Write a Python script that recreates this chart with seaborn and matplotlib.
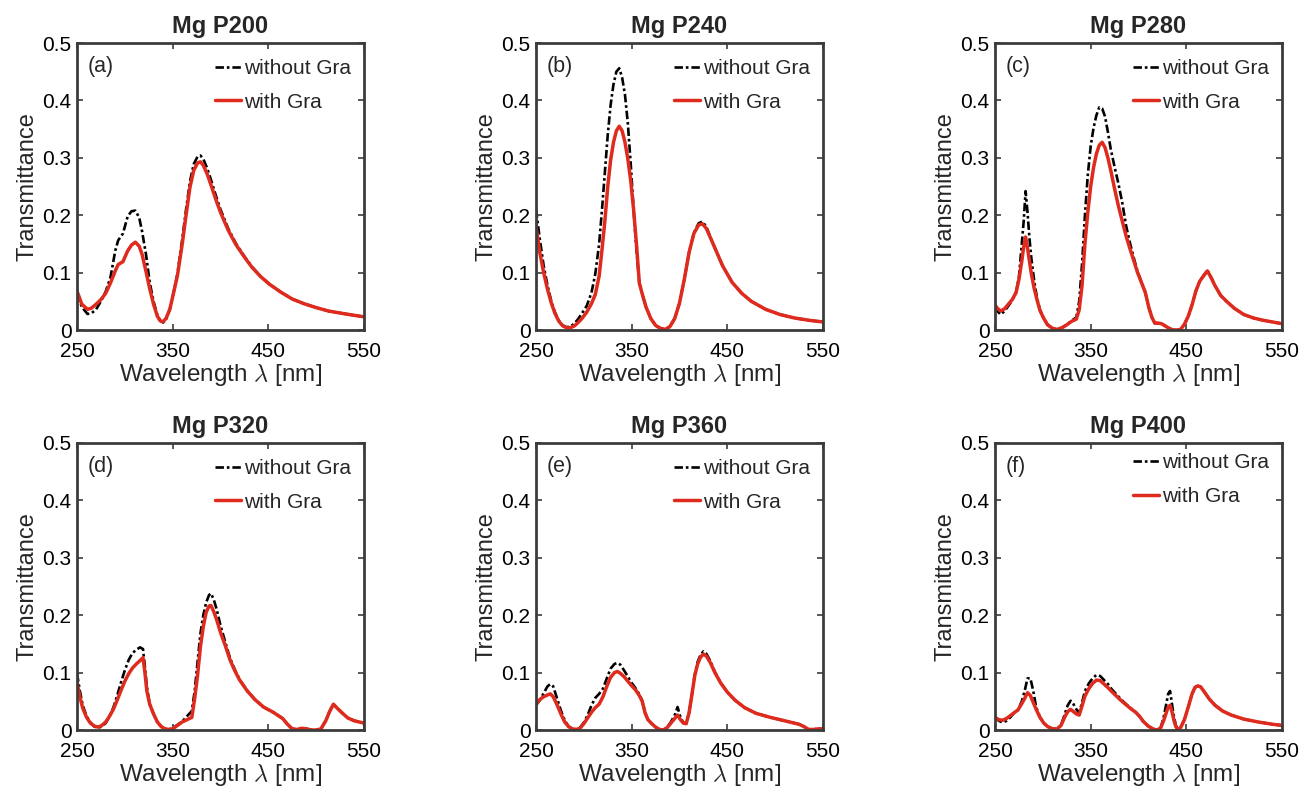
import numpy as np
import pandas as pd
import matplotlib
matplotlib.use("Agg")
import matplotlib.pyplot as plt
import seaborn as sns

sns.set_style("white")
plt.rcParams["font.family"] = ["Liberation Sans", "DejaVu Sans"]
plt.rcParams["mathtext.fontset"] = "cm"

# ---------------- spectra (wavelength in nm, transmittance) ----------------
# (a) Mg P200
wl_a = [250, 255, 261, 265, 270, 275, 280, 285, 290, 293, 298, 303, 307, 311, 315, 318,
        322, 326, 330, 334, 337, 340, 343, 347, 351, 355, 360, 364, 368, 372, 376, 379,
        382, 386, 390, 395, 400, 408, 416, 425, 433, 442, 451, 463, 475, 487, 500, 513,
        527, 538, 550]
with_a = [0.068, 0.045, 0.036, 0.038, 0.045, 0.053, 0.064, 0.082, 0.103, 0.114, 0.119,
          0.138, 0.148, 0.153, 0.146, 0.132, 0.103, 0.072, 0.045, 0.024, 0.016, 0.0145,
          0.020, 0.036, 0.065, 0.095, 0.150, 0.200, 0.248, 0.278, 0.291, 0.293, 0.287,
          0.272, 0.253, 0.228, 0.205, 0.174, 0.149, 0.127, 0.109, 0.093, 0.080, 0.066,
          0.054, 0.046, 0.039, 0.033, 0.029, 0.026, 0.023]
without_a = [0.064, 0.040, 0.028, 0.029, 0.036, 0.050, 0.067, 0.092, 0.138, 0.156, 0.168,
             0.198, 0.207, 0.208, 0.196, 0.172, 0.133, 0.083, 0.050, 0.026, 0.016, 0.013,
             0.018, 0.036, 0.066, 0.098, 0.158, 0.210, 0.258, 0.289, 0.302, 0.304, 0.298,
             0.282, 0.262, 0.235, 0.210, 0.177, 0.151, 0.128, 0.110, 0.093, 0.080, 0.066,
             0.054, 0.046, 0.039, 0.033, 0.029, 0.026, 0.023]

# (b) Mg P240
wl_b = [250, 254, 258, 262, 266, 270, 274, 278, 282, 286, 290, 294, 298, 303, 308, 312,
        316, 319, 322, 325, 328, 331, 334, 337, 340, 343, 346, 349, 352, 355, 358, 361,
        365, 370, 375, 380, 385, 390, 395, 400, 405, 410, 415, 420, 424, 428, 432, 438,
        445, 455, 465, 475, 490, 505, 520, 535, 550]
with_b = [0.181, 0.135, 0.100, 0.071, 0.047, 0.028, 0.015, 0.007, 0.004, 0.004, 0.007,
          0.013, 0.020, 0.031, 0.046, 0.062, 0.094, 0.140, 0.190, 0.250, 0.296, 0.327,
          0.347, 0.355, 0.347, 0.327, 0.298, 0.260, 0.210, 0.150, 0.082, 0.063, 0.040,
          0.020, 0.008, 0.003, 0.001, 0.006, 0.020, 0.047, 0.088, 0.135, 0.168, 0.183,
          0.185, 0.177, 0.162, 0.139, 0.112, 0.083, 0.064, 0.050, 0.036, 0.027, 0.021,
          0.017, 0.014]
without_b = [0.210, 0.158, 0.112, 0.078, 0.050, 0.030, 0.016, 0.008, 0.005, 0.006, 0.011,
             0.019, 0.029, 0.042, 0.065, 0.098, 0.150, 0.210, 0.275, 0.340, 0.392, 0.428,
             0.450, 0.456, 0.440, 0.410, 0.360, 0.290, 0.210, 0.140, 0.082, 0.063, 0.040,
             0.020, 0.008, 0.003, 0.001, 0.006, 0.020, 0.047, 0.088, 0.135, 0.169, 0.186,
             0.189, 0.180, 0.163, 0.139, 0.112, 0.083, 0.064, 0.050, 0.036, 0.027, 0.021,
             0.017, 0.014]

# (c) Mg P280
wl_c = [250, 253, 256, 260, 264, 268, 272, 275, 278, 280, 282, 284, 286, 288, 291, 294,
        297, 301, 305, 310, 315, 320, 325, 330, 335, 338, 341, 344, 347, 350, 353, 356,
        359, 362, 365, 368, 371, 375, 379, 383, 387, 391, 395, 399, 403, 407, 411, 414,
        417, 420, 424, 428, 432, 436, 440, 444, 448, 452, 456, 460, 464, 468, 472, 476,
        480, 486, 492, 500, 510, 520, 530, 540, 550]
with_c = [0.043, 0.037, 0.033, 0.037, 0.045, 0.053, 0.065, 0.088, 0.120, 0.145, 0.162,
          0.143, 0.120, 0.098, 0.072, 0.052, 0.034, 0.020, 0.009, 0.003, 0.001, 0.004,
          0.009, 0.015, 0.019, 0.035, 0.078, 0.150, 0.205, 0.250, 0.283, 0.307, 0.322,
          0.327, 0.318, 0.300, 0.278, 0.246, 0.216, 0.190, 0.164, 0.142, 0.121, 0.100,
          0.083, 0.066, 0.038, 0.022, 0.012, 0.012, 0.011, 0.007, 0.003, 0.000, 0.000,
          0.001, 0.010, 0.024, 0.044, 0.068, 0.085, 0.094, 0.103, 0.091, 0.077, 0.060,
          0.050, 0.038, 0.027, 0.021, 0.017, 0.014, 0.011]
without_c = [0.040, 0.032, 0.027, 0.033, 0.042, 0.052, 0.066, 0.092, 0.150, 0.190, 0.242,
             0.205, 0.160, 0.125, 0.085, 0.055, 0.035, 0.020, 0.009, 0.003, 0.001, 0.004,
             0.009, 0.016, 0.022, 0.050, 0.115, 0.200, 0.270, 0.320, 0.352, 0.374, 0.388,
             0.386, 0.372, 0.345, 0.315, 0.284, 0.255, 0.222, 0.182, 0.152, 0.126, 0.102,
             0.084, 0.066, 0.038, 0.022, 0.012, 0.012, 0.011, 0.007, 0.003, 0.000, 0.000,
             0.001, 0.010, 0.024, 0.044, 0.068, 0.085, 0.095, 0.104, 0.091, 0.077, 0.060,
             0.050, 0.038, 0.027, 0.021, 0.017, 0.014, 0.011]

# (d) Mg P320
wl_d = [250, 253, 256, 260, 264, 268, 272, 276, 280, 284, 288, 292, 296, 300, 304, 308,
        312, 316, 319, 321, 323, 326, 330, 334, 338, 342, 346, 350, 355, 360, 365, 370,
        373, 376, 379, 382, 385, 388, 390, 393, 396, 400, 405, 410, 415, 420, 428, 436,
        445, 455, 465, 470, 475, 480, 485, 490, 495, 500, 505, 510, 514, 518, 522, 527,
        533, 540, 550]
with_d = [0.083, 0.058, 0.038, 0.022, 0.012, 0.007, 0.005, 0.008, 0.014, 0.024, 0.036,
          0.052, 0.069, 0.085, 0.098, 0.108, 0.115, 0.121, 0.126, 0.100, 0.068, 0.045,
          0.028, 0.014, 0.006, 0.002, 0.001, 0.002, 0.008, 0.014, 0.018, 0.022, 0.055,
          0.095, 0.145, 0.180, 0.205, 0.216, 0.217, 0.206, 0.192, 0.170, 0.147, 0.122,
          0.103, 0.087, 0.068, 0.053, 0.040, 0.031, 0.020, 0.010, 0.002, 0.001, 0.003,
          0.002, 0.000, 0.000, 0.002, 0.016, 0.032, 0.045, 0.038, 0.030, 0.021, 0.016,
          0.012]
without_d = [0.099, 0.068, 0.043, 0.024, 0.013, 0.006, 0.004, 0.006, 0.012, 0.024, 0.039,
             0.060, 0.083, 0.104, 0.122, 0.134, 0.140, 0.144, 0.141, 0.110, 0.075, 0.045,
             0.028, 0.014, 0.006, 0.002, 0.001, 0.003, 0.009, 0.015, 0.024, 0.033, 0.068,
             0.118, 0.168, 0.200, 0.222, 0.235, 0.238, 0.227, 0.210, 0.182, 0.153, 0.125,
             0.105, 0.088, 0.068, 0.053, 0.040, 0.031, 0.020, 0.010, 0.002, 0.001, 0.003,
             0.002, 0.000, 0.000, 0.002, 0.016, 0.032, 0.045, 0.038, 0.030, 0.021, 0.016,
             0.012]

# (e) Mg P360
wl_e = [250, 254, 258, 262, 265, 268, 272, 276, 280, 284, 288, 292, 296, 300, 304, 308,
        312, 316, 320, 324, 328, 332, 335, 338, 342, 346, 350, 354, 358, 361, 364, 367,
        371, 375, 379, 383, 387, 391, 395, 398, 401, 404, 407, 410, 413, 416, 419, 422,
        425, 428, 432, 437, 443, 450, 458, 468, 480, 495, 510, 525, 530, 535, 540, 545,
        550]
with_e = [0.045, 0.053, 0.058, 0.061, 0.063, 0.058, 0.044, 0.028, 0.014, 0.006, 0.002,
          0.001, 0.003, 0.011, 0.021, 0.031, 0.039, 0.045, 0.058, 0.076, 0.092, 0.100,
          0.102, 0.099, 0.093, 0.085, 0.077, 0.070, 0.060, 0.050, 0.030, 0.018, 0.011,
          0.005, 0.001, 0.000, 0.004, 0.012, 0.020, 0.026, 0.018, 0.012, 0.011, 0.030,
          0.062, 0.095, 0.115, 0.127, 0.132, 0.129, 0.118, 0.100, 0.082, 0.066, 0.052,
          0.039, 0.029, 0.022, 0.016, 0.010, 0.006, 0.001, 0.001, 0.002, 0.002]
without_e = [0.043, 0.052, 0.064, 0.076, 0.080, 0.076, 0.055, 0.034, 0.017, 0.006, 0.002,
             0.001, 0.004, 0.013, 0.026, 0.043, 0.056, 0.063, 0.072, 0.090, 0.107, 0.115,
             0.117, 0.114, 0.104, 0.093, 0.082, 0.073, 0.062, 0.051, 0.030, 0.018, 0.011,
             0.005, 0.001, 0.000, 0.004, 0.014, 0.026, 0.040, 0.022, 0.013, 0.011, 0.030,
             0.062, 0.097, 0.119, 0.131, 0.137, 0.133, 0.121, 0.101, 0.082, 0.066, 0.052,
             0.039, 0.029, 0.022, 0.016, 0.010, 0.006, 0.001, 0.001, 0.002, 0.002]

# (f) Mg P400
wl_f = [250, 254, 258, 262, 266, 270, 274, 278, 281, 284, 287, 290, 293, 297, 301, 305,
        310, 315, 319, 323, 326, 329, 332, 335, 338, 341, 344, 348, 352, 356, 360, 364,
        368, 372, 377, 382, 387, 392, 397, 401, 405, 410, 415, 419, 423, 426, 429, 431,
        433, 435, 437, 439, 441, 444, 448, 452, 456, 459, 462, 465, 469, 474, 480, 488,
        497, 510, 525, 540, 550]
with_f = [0.022, 0.018, 0.017, 0.020, 0.025, 0.030, 0.035, 0.046, 0.055, 0.065, 0.060,
          0.048, 0.036, 0.022, 0.012, 0.006, 0.002, 0.002, 0.008, 0.023, 0.032, 0.036,
          0.032, 0.028, 0.026, 0.042, 0.059, 0.072, 0.081, 0.087, 0.086, 0.080, 0.074,
          0.067, 0.059, 0.051, 0.044, 0.037, 0.031, 0.024, 0.015, 0.007, 0.002, 0.000,
          0.003, 0.015, 0.030, 0.040, 0.043, 0.032, 0.017, 0.006, 0.001, 0.004, 0.018,
          0.040, 0.063, 0.074, 0.077, 0.075, 0.066, 0.054, 0.043, 0.033, 0.026, 0.019,
          0.014, 0.010, 0.008]
without_f = [0.022, 0.016, 0.013, 0.016, 0.022, 0.030, 0.035, 0.050, 0.068, 0.090, 0.090,
             0.068, 0.040, 0.022, 0.012, 0.006, 0.002, 0.002, 0.008, 0.028, 0.043, 0.051,
             0.045, 0.036, 0.030, 0.048, 0.068, 0.081, 0.090, 0.096, 0.094, 0.087, 0.080,
             0.071, 0.062, 0.053, 0.045, 0.038, 0.031, 0.024, 0.015, 0.007, 0.002, 0.000,
             0.003, 0.020, 0.045, 0.063, 0.068, 0.045, 0.024, 0.008, 0.001, 0.004, 0.018,
             0.040, 0.063, 0.074, 0.078, 0.075, 0.066, 0.054, 0.043, 0.033, 0.026, 0.019,
             0.014, 0.010, 0.008]

titles = ["Mg P200", "Mg P240", "Mg P280", "Mg P320", "Mg P360", "Mg P400"]
tags = ["(a)", "(b)", "(c)", "(d)", "(e)", "(f)"]
series_labels = ["without Gra", "with Gra"]
x_ticks = [250, 350, 450, 550]
y_ticks = [0, 0.1, 0.2, 0.3, 0.4, 0.5]
y_tick_labels = ["0", "0.1", "0.2", "0.3", "0.4", "0.5"]

panels = [
    (wl_a, without_a, with_a),
    (wl_b, without_b, with_b),
    (wl_c, without_c, with_c),
    (wl_d, without_d, with_d),
    (wl_e, without_e, with_e),
    (wl_f, without_f, with_f),
]

# ---------------- figure ----------------
W, H = 1303, 792
fig = plt.figure(figsize=(W / 100, H / 100), dpi=100)

col_left_px = [77, 536, 995]
row_top_px = [43, 443]
size_px = 287

red = "#df2a1e"
spine_col = "#3c3c3c"

for i, (wl, wo, wi) in enumerate(panels):
    r, c = divmod(i, 3)
    left = col_left_px[c] / W
    bottom = 1 - (row_top_px[r] + size_px) / H
    ax = fig.add_axes([left, bottom, size_px / W, size_px / H])

    df = pd.DataFrame({
        "wavelength": list(wl) * 2,
        "T": list(wo) + list(wi),
        "series": [series_labels[0]] * len(wl) + [series_labels[1]] * len(wl),
    })
    sns.lineplot(data=df[df.series == series_labels[0]], x="wavelength", y="T",
                 ax=ax, color="black", lw=1.9, linestyle=(0, (3.2, 1.1, 1.0, 1.1)),
                 label=series_labels[0], sort=False, estimator=None)
    sns.lineplot(data=df[df.series == series_labels[1]], x="wavelength", y="T",
                 ax=ax, color=red, lw=2.5, label=series_labels[1],
                 sort=False, estimator=None)

    ax.set_xlim(250, 550)
    ax.set_ylim(0, 0.5)
    ax.set_xticks(x_ticks)
    ax.set_xticklabels([str(t) for t in x_ticks])
    ax.set_yticks(y_ticks)
    ax.set_yticklabels(y_tick_labels)
    ax.tick_params(direction="in", length=4, width=1.2, colors=spine_col,
                   labelcolor="black", labelsize=15, top=True, right=True,
                   bottom=True, left=True)
    ax.tick_params(axis="x", pad=8.5)
    ax.tick_params(axis="y", pad=4)
    for sp in ax.spines.values():
        sp.set_color(spine_col)
        sp.set_linewidth(2.0)

    ax.set_title(titles[i], fontsize=17, fontweight="bold", pad=7)
    ax.set_xlabel(r"Wavelength $\lambda$ [nm]", fontsize=17.5, labelpad=1)
    ax.set_ylabel("Transmittance", fontsize=17, labelpad=3)

    ax.text(0.038, 0.918, tags[i], transform=ax.transAxes, fontsize=15.5,
            ha="left", va="center")

    leg_y = 0.995 if i != 5 else 1.015
    ax.legend(loc="upper right", bbox_to_anchor=(1.005, leg_y), frameon=False,
              fontsize=15, handlelength=1.25, handletextpad=0.15, labelspacing=0.7,
              borderaxespad=0.3)

fig.savefig("out.png", dpi=100, facecolor="white")
